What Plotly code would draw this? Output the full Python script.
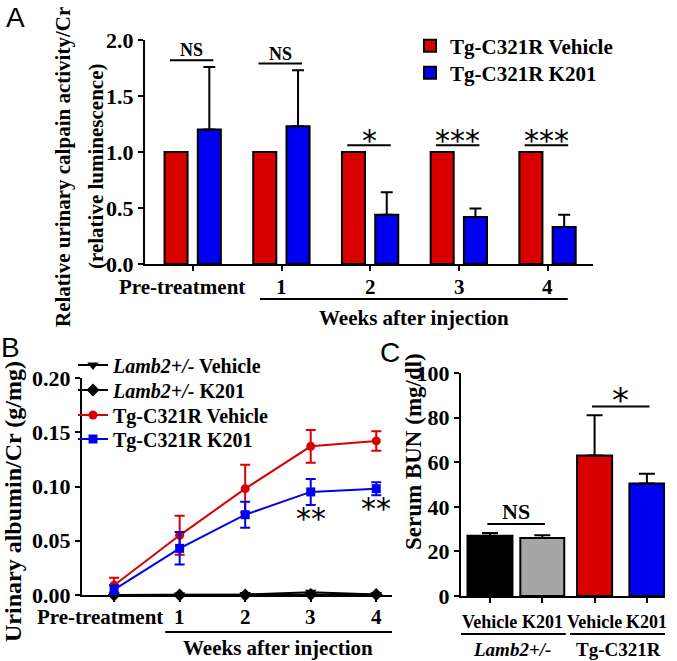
import plotly.graph_objects as go

# ---------------- data ----------------
# Panel A: relative urinary calpain activity
a_groups = ["Pre-treatment", "1", "2", "3", "4"]
a_vehicle = [1.0, 1.0, 1.0, 1.0, 1.0]
a_k201 = [1.20, 1.23, 0.44, 0.42, 0.33]
a_k201_err = [0.56, 0.50, 0.20, 0.075, 0.11]
a_sig = ["NS", "NS", "*", "***", "***"]
a_series = ["Tg-C321R Vehicle", "Tg-C321R K201"]

# Panel B: urinary albumin/Cr
b_groups = ["Pre-treatment", "1", "2", "3", "4"]
b_lamb_vehicle = [0.0, 0.0, 0.0005, 0.0025, 0.0005]
b_lamb_k201 = [0.0, 0.0, 0.0, 0.0005, 0.0005]
b_tg_vehicle = [0.009, 0.055, 0.098, 0.137, 0.142]
b_tg_vehicle_err = [0.007, 0.018, 0.022, 0.015, 0.009]
b_tg_k201 = [0.005, 0.043, 0.074, 0.095, 0.098]
b_tg_k201_err = [0.004, 0.015, 0.012, 0.012, 0.006]
b_sig = ["", "", "", "**", "**"]
b_series = ["<i>Lamb2+/-</i> Vehicle", "<i>Lamb2+/-</i> K201",
            "Tg-C321R Vehicle", "Tg-C321R K201"]

# Panel C: serum BUN
c_labels = ["Vehicle", "K201", "Vehicle", "K201"]
c_genotypes = ["<i>Lamb2+/-</i>", "Tg-C321R"]
c_values = [27.0, 26.0, 63.0, 50.5]
c_err = [1.3, 1.2, 18.0, 4.3]
c_sig = [("NS", 0, 1), ("*", 2, 3)]

# ---------------- style ----------------
W, H = 677, 661
RED = "#d80000"
BLUE = "#0000f0"
GRAY = "#a6a6a6"
SERIF = "Liberation Serif"
SANS = "Liberation Sans"
STAR = "DejaVu Sans"


def px(x):
    return x / W


def py(y):
    return 1 - y / H


def bfont(size, color="black", family=SERIF):
    return dict(family=family, size=size, color=color, weight="bold")


fig = go.Figure()

# ---- Panel A bars ----
xa = list(range(len(a_groups)))
fig.add_trace(go.Bar(
    x=xa, y=a_vehicle, name=a_series[0], offset=-0.32, width=0.26,
    marker=dict(color=RED, line=dict(color="black", width=2)),
    xaxis="x", yaxis="y", legend="legend",
))
fig.add_trace(go.Bar(
    x=xa, y=a_k201, name=a_series[1], offset=0.055, width=0.26,
    marker=dict(color=BLUE, line=dict(color="black", width=2)),
    error_y=dict(type="data", array=a_k201_err, symmetric=False,
                 arrayminus=[0] * len(a_k201), color="black",
                 thickness=2, width=6),
    xaxis="x", yaxis="y", legend="legend2",
))

# ---- Panel B lines ----
xb = list(range(len(b_groups)))
fig.add_trace(go.Scatter(
    x=xb, y=b_lamb_vehicle, name=b_series[0], mode="lines+markers",
    line=dict(color="black", width=2),
    marker=dict(symbol="triangle-down", size=10, color="black"),
    cliponaxis=False, xaxis="x2", yaxis="y2", legend="legend3",
))
fig.add_trace(go.Scatter(
    x=xb, y=b_lamb_k201, name=b_series[1], mode="lines+markers",
    line=dict(color="black", width=2),
    marker=dict(symbol="diamond", size=10, color="black"),
    cliponaxis=False, xaxis="x2", yaxis="y2", legend="legend4",
))
fig.add_trace(go.Scatter(
    x=xb, y=b_tg_vehicle, name=b_series[2], mode="lines+markers",
    line=dict(color=RED, width=2),
    marker=dict(symbol="circle", size=9, color=RED),
    error_y=dict(type="data", array=b_tg_vehicle_err, color=RED,
                 thickness=2, width=5),
    cliponaxis=False, xaxis="x2", yaxis="y2", legend="legend5",
))
fig.add_trace(go.Scatter(
    x=xb, y=b_tg_k201, name=b_series[3], mode="lines+markers",
    line=dict(color=BLUE, width=2),
    marker=dict(symbol="square", size=9, color=BLUE),
    error_y=dict(type="data", array=b_tg_k201_err, color=BLUE,
                 thickness=2, width=5),
    cliponaxis=False, xaxis="x2", yaxis="y2", legend="legend6",
))

# ---- Panel C bars ----
xc = list(range(len(c_labels)))
fig.add_trace(go.Bar(
    x=xc, y=c_values, width=[0.86, 0.84, 0.67, 0.67],
    marker=dict(color=["black", GRAY, RED, BLUE],
                line=dict(color="black", width=2)),
    error_y=dict(type="data", array=c_err, symmetric=False,
                 arrayminus=[0] * len(c_values), color="black",
                 thickness=2, width=8),
    showlegend=False, xaxis="x3", yaxis="y3",
))

axis_common = dict(showline=True, linewidth=2, linecolor="black",
                   ticks="outside", ticklen=5, tickwidth=2,
                   tickcolor="black", showgrid=False, zeroline=False,
                   automargin=False)

annotations = []
shapes = []


def ann(**kw):
    kw.setdefault("showarrow", False)
    kw.setdefault("xanchor", "center")
    kw.setdefault("yanchor", "middle")
    annotations.append(kw)


# ---- Panel A annotations ----
for i, lab in enumerate(a_groups):
    ann(x=i, y=py(287), xref="x", yref="paper", text=lab,
        font=bfont(21), xshift=-11 if i == 0 else 0)
shapes.append(dict(type="line", xref="x", yref="paper", x0=0.755, x1=4.225,
                   y0=py(299), y1=py(299), line=dict(color="black", width=2)))
ann(x=2.49, y=py(318), xref="x", yref="paper",
    text="Weeks after injection", font=bfont(21))
for i, s in enumerate(a_sig):
    top = max(a_vehicle[i], a_k201[i] + a_k201_err[i]) + 0.06
    shapes.append(dict(type="line", xref="x", yref="y", x0=i - 0.26,
                       x1=i + 0.23, y0=top, y1=top,
                       line=dict(color="black", width=2)))
    if s == "NS":
        ann(x=i - 0.015, y=top, xref="x", yref="y", text=s,
            yanchor="bottom", font=bfont(18), yshift=-2)
    else:
        ann(x=i - 0.015, y=top, xref="x", yref="y", text=s,
            yanchor="bottom", yshift=-15,
            font=dict(family=STAR, size=30, color="black"))
ann(x=px(63), y=py(167), xref="paper", yref="paper",
    text="Relative urinary calpain activity/Cr",
    textangle=-90, font=bfont(21))
ann(x=px(96), y=py(167), xref="paper", yref="paper",
    text="(relative luminescence)", textangle=-90, font=bfont(21))

# ---- Panel B annotations ----
for i, lab in enumerate(b_groups):
    ann(x=i, y=py(617), xref="x2", yref="paper", text=lab,
        font=bfont(21), xshift=-14 if i == 0 else 0)
shapes.append(dict(type="line", xref="x2", yref="paper", x0=0.78, x1=4.26,
                   y0=py(632), y1=py(632), line=dict(color="black", width=2)))
ann(x=2.5, y=py(648), xref="x2", yref="paper",
    text="Weeks after injection", font=bfont(21))
for i, s in enumerate(b_sig):
    if s:
        ann(x=i, y=b_tg_k201[i] - b_tg_k201_err[i], xref="x2", yref="y2",
            text=s, yanchor="top", yshift=6,
            font=dict(family=STAR, size=30, color="black"))
ann(x=px(13), y=py(502), xref="paper", yref="paper",
    text="Urinary albumin/Cr (g/mg)", textangle=-90, font=bfont(24))

# ---- Panel C annotations ----
for i, lab in enumerate(c_labels):
    ann(x=i, y=py(622), xref="x3", yref="paper", text=lab, font=bfont(18))
for (x0, x1), g in zip([(-0.59, 1.45), (1.53, 3.40)], c_genotypes):
    shapes.append(dict(type="line", xref="x3", yref="paper", x0=x0, x1=x1,
                       y0=py(634), y1=py(634),
                       line=dict(color="black", width=2)))
    ann(x=(x0 + x1) / 2, y=py(649), xref="x3", yref="paper", text=g,
        font=bfont(19))
for s, i0, i1 in c_sig:
    top = max(c_values[i0] + c_err[i0], c_values[i1] + c_err[i1]) + 4
    shapes.append(dict(type="line", xref="x3", yref="y3", x0=i0 - 0.05,
                       x1=i1 + 0.05, y0=top, y1=top,
                       line=dict(color="black", width=2)))
    if s == "NS":
        ann(x=(i0 + i1) / 2, y=top, xref="x3", yref="y3", text=s,
            yanchor="bottom", font=bfont(22), yshift=-2)
    else:
        ann(x=(i0 + i1) / 2, y=top, xref="x3", yref="y3", text=s,
            yanchor="bottom", yshift=-16,
            font=dict(family=STAR, size=34, color="black"))
ann(x=px(413), y=py(452), xref="paper", yref="paper",
    text="Serum BUN (mg/dl)", textangle=-90, font=bfont(23))

# ---- panel letters ----
for letter, (lx, ly) in zip(["A", "B", "C"], [(15, 17), (11, 347), (390, 352)]):
    ann(x=px(lx), y=py(ly), xref="paper", yref="paper", text=letter,
        font=dict(family=SANS, size=28, color="black"))

# ---- legends (one per entry so the row spacing follows the figure) ----
legend_rows = {
    "legend": (410, 46, 21), "legend2": (410, 73, 21),
    "legend3": (73, 365, 20), "legend4": (73, 390, 20),
    "legend5": (73, 415, 20), "legend6": (73, 439, 20),
}
legend_layout = {
    name: dict(x=px(lx), y=py(ly), xanchor="left", yanchor="middle",
               font=bfont(fs), bgcolor="rgba(0,0,0,0)", itemwidth=30,
               borderwidth=0)
    for name, (lx, ly, fs) in legend_rows.items()
}

fig.update_layout(
    template="none",
    width=W, height=H,
    margin=dict(l=0, r=0, t=0, b=0, pad=0, autoexpand=False),
    paper_bgcolor="white", plot_bgcolor="white",
    barmode="overlay", showlegend=True,
    xaxis=dict(domain=[px(145), px(593)], range=[-0.54, 4.51], anchor="y",
               tickvals=xa, showticklabels=False, **axis_common),
    yaxis=dict(domain=[py(264), py(40)], range=[0, 2.0], anchor="x",
               tickvals=[0, 0.5, 1.0, 1.5, 2.0], tickformat=".1f",
               tickfont=bfont(22), **axis_common),
    xaxis2=dict(domain=[px(82), px(392)], range=[-0.49, 4.24], anchor="y2",
                tickvals=xb, showticklabels=False, **axis_common),
    yaxis2=dict(domain=[py(595), py(378)], range=[0, 0.2], anchor="x2",
                tickvals=[0, 0.05, 0.10, 0.15, 0.20], tickformat=".2f",
                tickfont=bfont(22), **axis_common),
    xaxis3=dict(domain=[px(461), px(665)], range=[-0.554, 3.346],
                anchor="y3", tickvals=xc, showticklabels=False, **axis_common),
    yaxis3=dict(domain=[py(596), py(373)], range=[0, 100], anchor="x3",
                tickvals=[0, 20, 40, 60, 80, 100],
                tickfont=bfont(22), **axis_common),
    annotations=annotations,
    shapes=shapes,
    **legend_layout,
)

fig.write_html(
    "out.html",
    config={"displayModeBar": False},
    post_script="document.body.style.margin='0px';"
                "document.body.style.overflow='hidden';",
)
